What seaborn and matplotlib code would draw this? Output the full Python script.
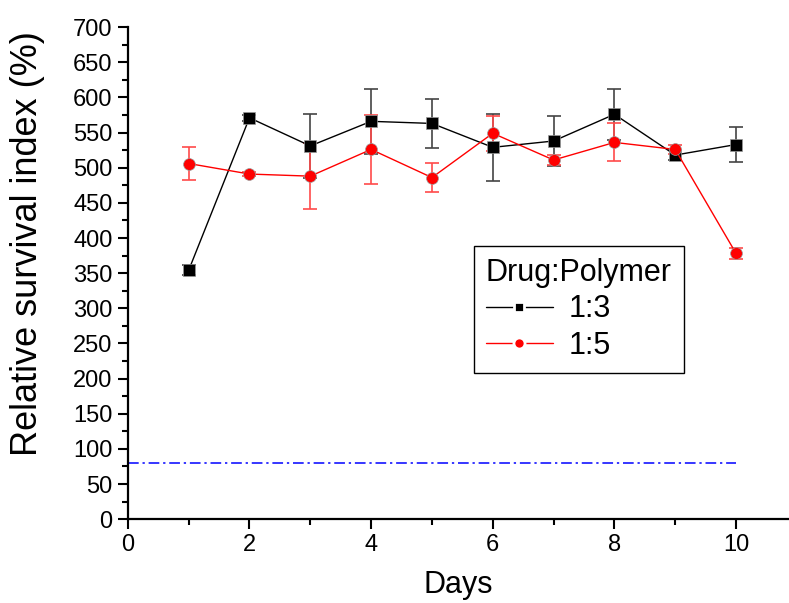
import matplotlib
matplotlib.use("Agg")
import matplotlib.pyplot as plt
import seaborn as sns
import pandas as pd
import numpy as np
from matplotlib.ticker import MultipleLocator
from matplotlib.lines import Line2D

days = [1, 2, 3, 4, 5, 6, 7, 8, 9, 10]
ratio_13 = [354, 571, 531, 566, 563, 529, 538, 576, 518, 533]
err_13 = [7, 4, 45, 46, 35, 48, 35, 36, 7, 25]
ratio_15 = [506, 491, 488, 526, 486, 549, 511, 536, 526, 378]
err_15 = [24, 3, 47, 49, 21, 25, 7, 27, 7, 8]
series_names = ["1:3", "1:5"]
threshold = 80

sns.set_theme(style="ticks")
plt.rcParams['font.family'] = ['Liberation Sans', 'DejaVu Sans']
plt.rcParams['text.color'] = 'black'
plt.rcParams['axes.labelcolor'] = 'black'
plt.rcParams['xtick.color'] = 'black'
plt.rcParams['ytick.color'] = 'black'

df = pd.DataFrame({
    "Days": days * 2,
    "value": ratio_13 + ratio_15,
    "err": err_13 + err_15,
    "Drug:Polymer": [series_names[0]] * len(days) + [series_names[1]] * len(days),
})

fig = plt.figure(figsize=(7.89, 6.03), dpi=100)
ax = fig.add_axes([0.162, 0.139, 0.838, 0.816])

colors = {"1:3": "black", "1:5": "red"}
markers = {"1:3": "s", "1:5": "o"}
ecolors = {"1:3": "#444444", "1:5": "#ff4a4a"}

for name in series_names:
    sub = df[df["Drug:Polymer"] == name]
    ax.errorbar(sub["Days"], sub["value"], yerr=sub["err"], fmt="none",
                ecolor=ecolors[name], elinewidth=1.2, capsize=5, capthick=1.2, zorder=2)

sns.lineplot(data=df, x="Days", y="value", hue="Drug:Polymer", style="Drug:Polymer",
             palette=colors, markers=markers, dashes=False, ax=ax, linewidth=1,
             markersize=8.5, markeredgewidth=0.5, markeredgecolor="#999999", zorder=3,
             legend=False)

ax.hlines(threshold, 0, 10, colors="blue", linestyles=(0, (7, 2.5, 1.5, 2.5)), linewidth=1.1, zorder=1)

ax.set_xlim(0, 10.87)
ax.set_ylim(0, 700)
ax.xaxis.set_major_locator(MultipleLocator(2))
ax.xaxis.set_minor_locator(MultipleLocator(1))
ax.yaxis.set_major_locator(MultipleLocator(50))
ax.yaxis.set_minor_locator(MultipleLocator(25))
ax.tick_params(which="major", direction="out", length=7, width=1.5, labelsize=17, colors="black", pad=4)
ax.tick_params(which="minor", direction="out", length=4, width=1.5)
for s in ["top", "right"]:
    ax.spines[s].set_visible(False)
for s in ["left", "bottom"]:
    ax.spines[s].set_linewidth(1.6)
    ax.spines[s].set_color("black")

ax.set_xlabel("Days", fontsize=22, labelpad=10)
ax.set_ylabel("Relative survival index (%)", fontsize=26)
ax.yaxis.set_label_coords(-0.126, 0.56)

handles = [Line2D([], [], color=colors[n], marker=markers[n], markersize=7 if n == "1:3" else 8,
                  linewidth=1, markeredgecolor="white", markeredgewidth=2) for n in series_names]
leg = ax.legend(handles, series_names, title="Drug:Polymer", loc="upper left",
                bbox_to_anchor=(0.523, 0.555), fontsize=22, title_fontsize=22,
                frameon=True, fancybox=False, edgecolor="black", handlelength=2.2,
                borderpad=0.4, labelspacing=0.2, handletextpad=0.5, borderaxespad=0)
leg.get_frame().set_linewidth(1)
leg.get_frame().set_facecolor("white")
leg.get_frame().set_alpha(1)
leg._legend_box.align = "left"

fig.savefig("out.png", dpi=100)
